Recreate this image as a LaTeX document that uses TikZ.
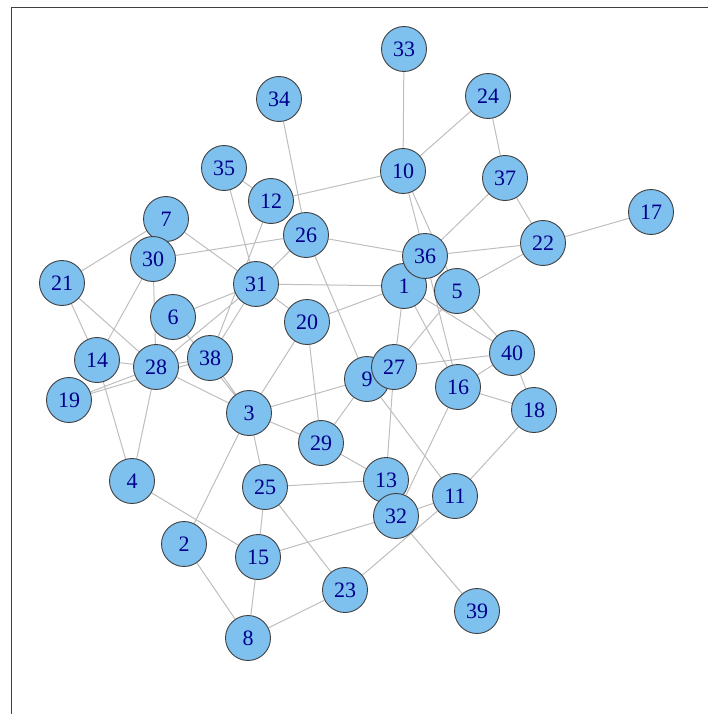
\documentclass[tikz,border=0pt]{standalone}
\usepackage{fontspec}
\setmainfont{Liberation Serif}
\usepackage{xcolor}
\usetikzlibrary{backgrounds}
\definecolor{vfill}{HTML}{7EC0EE}
\definecolor{vlabel}{HTML}{00008B}
\definecolor{egrey}{HTML}{BEBEBE}

\begin{document}
\begin{tikzpicture}[
    x=1pt, y=-1pt,
    vertex/.style={circle, draw=black!75, line width=0.9pt, fill=vfill,
        text=vlabel, minimum size=45pt, inner sep=0pt,
        font=\fontsize{22}{22}\selectfont},
    edge/.style={draw=egrey, line width=1pt}
]
\useasboundingbox (0,0) rectangle (708,714);
\draw[black!75, line width=0.9pt] (11,714) -- (11,7) -- (708,7);

\node[vertex] (n1)  at (404,286) {1};
\node[vertex] (n2)  at (184,544) {2};
\node[vertex] (n3)  at (249,413) {3};
\node[vertex] (n4)  at (132,481) {4};
\node[vertex] (n5)  at (457,291) {5};
\node[vertex] (n6)  at (173,317) {6};
\node[vertex] (n7)  at (166,219) {7};
\node[vertex] (n8)  at (248,638) {8};
\node[vertex] (n9)  at (367,379) {9};
\node[vertex] (n10) at (403,171) {10};
\node[vertex] (n11) at (455,496) {11};
\node[vertex] (n12) at (271,201) {12};
\node[vertex] (n13) at (386,480) {13};
\node[vertex] (n14) at (97,360)  {14};
\node[vertex] (n15) at (258,557) {15};
\node[vertex] (n16) at (458,387) {16};
\node[vertex] (n17) at (651,212) {17};
\node[vertex] (n18) at (534,410) {18};
\node[vertex] (n19) at (69,400)  {19};
\node[vertex] (n20) at (307,322) {20};
\node[vertex] (n21) at (62,283)  {21};
\node[vertex] (n22) at (543,243) {22};
\node[vertex] (n23) at (345,590) {23};
\node[vertex] (n24) at (488,96)  {24};
\node[vertex] (n25) at (265,487) {25};
\node[vertex] (n26) at (306,235) {26};
\node[vertex] (n27) at (394,367) {27};
\node[vertex] (n28) at (156,367) {28};
\node[vertex] (n29) at (321,443) {29};
\node[vertex] (n30) at (153,259) {30};
\node[vertex] (n31) at (256,284) {31};
\node[vertex] (n32) at (396,516) {32};
\node[vertex] (n33) at (404,49)  {33};
\node[vertex] (n34) at (279,99)  {34};
\node[vertex] (n35) at (224,168) {35};
\node[vertex] (n36) at (425,256) {36};
\node[vertex] (n37) at (505,178) {37};
\node[vertex] (n38) at (210,358) {38};
\node[vertex] (n39) at (477,611) {39};
\node[vertex] (n40) at (512,353) {40};

% edges go under the vertices
\begin{pgfonlayer}{background}
\path[edge]
    (n33) -- (n10) (n24) -- (n10) (n24) -- (n37) (n10) -- (n12)
    (n10) -- (n36) (n10) -- (n5)  (n12) -- (n35) (n12) -- (n38)
    (n34) -- (n26) (n35) -- (n31) (n7)  -- (n21) (n7)  -- (n31)
    (n30) -- (n26) (n30) -- (n14) (n30) -- (n28) (n21) -- (n14)
    (n21) -- (n28) (n26) -- (n31) (n26) -- (n36) (n26) -- (n9)
    (n31) -- (n1)  (n31) -- (n20) (n31) -- (n6)  (n31) -- (n28)
    (n31) -- (n38) (n20) -- (n1)  (n20) -- (n3)  (n20) -- (n29)
    (n36) -- (n37) (n36) -- (n22) (n36) -- (n16) (n22) -- (n37)
    (n22) -- (n17) (n22) -- (n5)  (n1)  -- (n27) (n1)  -- (n40)
    (n1)  -- (n16) (n5)  -- (n27) (n5)  -- (n40) (n27) -- (n40)
    (n27) -- (n13) (n40) -- (n16) (n40) -- (n18) (n16) -- (n18)
    (n16) -- (n32) (n9)  -- (n3)  (n9)  -- (n29) (n9)  -- (n11)
    (n18) -- (n11) (n11) -- (n32) (n11) -- (n23) (n32) -- (n39)
    (n32) -- (n15) (n13) -- (n29) (n13) -- (n25) (n3)  -- (n28)
    (n3)  -- (n38) (n3)  -- (n6)  (n3)  -- (n2)  (n3)  -- (n25)
    (n3)  -- (n29) (n28) -- (n4)  (n14) -- (n4)  (n14) -- (n28)
    (n28) -- (n38) (n19) -- (n28) (n19) -- (n38) (n4)  -- (n15)
    (n2)  -- (n8)  (n15) -- (n25) (n15) -- (n8)  (n25) -- (n23)
    (n23) -- (n8);
\end{pgfonlayer}
\end{tikzpicture}
\end{document}
